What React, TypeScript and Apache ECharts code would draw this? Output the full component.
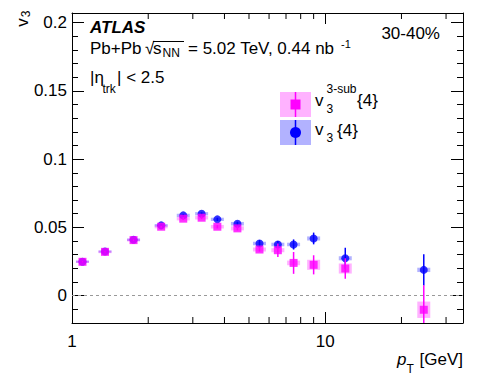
import React, { useEffect, useRef } from "react";
import * as echarts from "echarts";

// ---- data ----
const pT = [1.1, 1.35, 1.75, 2.25, 2.75, 3.25, 3.75, 4.5, 5.5, 6.5, 7.5, 9, 12, 24.5];
const v3sub = [0.0248, 0.0321, 0.0407, 0.0505, 0.0564, 0.0571, 0.0505, 0.0493, 0.0338, 0.0333, 0.024, 0.0226, 0.0199, -0.0103];
const v3subStat = [0.0005, 0.0005, 0.0006, 0.0008, 0.001, 0.001, 0.0012, 0.0015, 0.0015, 0.005, 0.008, 0.007, 0.0075, 0.018];
const v3subSys = [0.0008, 0.001, 0.001, 0.0012, 0.0013, 0.0013, 0.0013, 0.0015, 0.0015, 0.0015, 0.0017, 0.0037, 0.0037, 0.006];
const v34 = [0.0249, 0.0323, 0.0409, 0.0515, 0.0588, 0.06, 0.0559, 0.0527, 0.0382, 0.0375, 0.0375, 0.0419, 0.0274, 0.0189];
const v34Stat = [0.0005, 0.0005, 0.0006, 0.0008, 0.001, 0.001, 0.0012, 0.0015, 0.0026, 0.0026, 0.0037, 0.0043, 0.0077, 0.0115];
const v34Sys = [0.0008, 0.0008, 0.0009, 0.001, 0.0012, 0.0012, 0.0012, 0.0013, 0.0013, 0.0013, 0.0013, 0.0015, 0.0015, 0.0016];

const yMajor = [0, 0.05, 0.1, 0.15, 0.2];
const yMinor = [-0.01, 0.01, 0.02, 0.03, 0.04, 0.06, 0.07, 0.08, 0.09, 0.11, 0.12, 0.13, 0.14, 0.16, 0.17, 0.18, 0.19, 0.2];
const xLabels = [1, 10];
const xMinor = [2, 3, 4, 5, 6, 7, 8, 9, 20, 30];
const X_MIN = 1, X_MAX = 35, Y_MIN = -0.02, Y_MAX = 0.207;

const FONT = "Liberation Sans, Arial, Helvetica, sans-serif";
const MAG = "#ff00ff", MAG_BOX = "rgba(255,0,255,0.3)";
const BLU = "#0000ff", BLU_BOX = "rgba(0,0,255,0.3)";

function boxSeries(xs: number[], ys: number[], sys: number[], color: string) {
  return {
    type: "custom",
    xAxisIndex: 0, yAxisIndex: 0, clip: true, silent: true, z: 2,
    data: xs.map((x, i) => [x, ys[i], sys[i]]),
    renderItem: (params: any, api: any) => {
      const c = api.coord([api.value(0), api.value(1)]);
      const top = api.coord([api.value(0), api.value(1) + api.value(2)]);
      const bot = api.coord([api.value(0), api.value(1) - api.value(2)]);
      return {
        type: "rect",
        shape: { x: c[0] - 6.5, y: top[1], width: 13, height: Math.max(bot[1] - top[1], 1) },
        style: { fill: color },
      };
    },
  };
}
function errSeries(xs: number[], ys: number[], st: number[], color: string, z: number) {
  return {
    type: "custom",
    xAxisIndex: 0, yAxisIndex: 0, clip: true, silent: true, z,
    data: xs.map((x, i) => [x, ys[i], st[i]]),
    renderItem: (params: any, api: any) => {
      const top = api.coord([api.value(0), api.value(1) + api.value(2)]);
      const bot = api.coord([api.value(0), api.value(1) - api.value(2)]);
      return {
        type: "line",
        shape: { x1: top[0], y1: top[1], x2: bot[0], y2: bot[1] },
        style: { stroke: color, lineWidth: 1.5 },
      };
    },
  };
}

function txt(text: string, x: number, y: number, size: number, extra: any = {}) {
  return {
    type: "text", x, y, silent: true, ...extra.el,
    style: {
      text, fill: "#000", font: `${extra.font || ""} ${size}px ${FONT}`,
      textAlign: extra.align || "left", textVerticalAlign: "middle",
      align: extra.align || "left", verticalAlign: "middle",
    },
  };
}

export default function App() {
  const ref = useRef<HTMLDivElement>(null);
  useEffect(() => {
    const chart = echarts.init(ref.current!, null, { renderer: "svg" });
    const axisCommon = { lineStyle: { color: "#000", width: 1 } };
    const option: any = {
      animation: false,
      backgroundColor: "#fff",
      grid: { left: 72, right: 15, top: 13, bottom: 58 },
      xAxis: [
        {
          type: "log", logBase: 10, min: X_MIN, max: X_MAX, position: "bottom",
          axisLine: { show: true, onZero: false, ...axisCommon },
          axisTick: { inside: true, length: 11, lineStyle: { color: "#000" } },
          axisLabel: {
            color: "#000", fontSize: 17, fontFamily: FONT, margin: 10,
            showMaxLabel: false,
            formatter: (v: number) => (xLabels.indexOf(Math.round(v)) >= 0 ? String(Math.round(v)) : ""),
          },
          splitLine: { show: false },
        },
        {
          type: "log", logBase: 10, min: X_MIN, max: X_MAX, position: "top",
          axisLine: { show: true, onZero: false, ...axisCommon },
          axisTick: { inside: true, length: 11, lineStyle: { color: "#000" } },
          axisLabel: { show: false },
          splitLine: { show: false },
        },
      ],
      yAxis: [
        {
          type: "value", min: Y_MIN, max: Y_MAX, position: "left",
          axisLine: { show: true, onZero: false, ...axisCommon },
          axisTick: { inside: true, length: 12, customValues: yMajor, lineStyle: { color: "#000" } },
          axisLabel: { customValues: yMajor, color: "#000", fontSize: 17, fontFamily: FONT, margin: 5 },
          splitLine: { show: false },
        },
        {
          type: "value", min: Y_MIN, max: Y_MAX, position: "left",
          axisLine: { show: false },
          axisTick: { inside: true, length: 6, customValues: yMinor, lineStyle: { color: "#000" } },
          axisLabel: { show: false },
          splitLine: { show: false },
        },
        {
          type: "value", min: Y_MIN, max: Y_MAX, position: "right",
          axisLine: { show: true, onZero: false, ...axisCommon },
          axisTick: { inside: true, length: 12, customValues: yMajor, lineStyle: { color: "#000" } },
          axisLabel: { show: false },
          splitLine: { show: false },
        },
        {
          type: "value", min: Y_MIN, max: Y_MAX, position: "right",
          axisLine: { show: false },
          axisTick: { inside: true, length: 6, customValues: yMinor, lineStyle: { color: "#000" } },
          axisLabel: { show: false },
          splitLine: { show: false },
        },
      ],
      series: [
        {
          type: "custom", xAxisIndex: 0, yAxisIndex: 0, silent: true, z: 1,
          data: xMinor.map((v) => [v]),
          renderItem: (params: any, api: any) => {
            const b = api.coord([api.value(0), Y_MIN]);
            const t = api.coord([api.value(0), Y_MAX]);
            return {
              type: "group",
              children: [
                { type: "line", shape: { x1: b[0], y1: b[1], x2: b[0], y2: b[1] - 6 }, style: { stroke: "#000", lineWidth: 1 } },
                { type: "line", shape: { x1: t[0], y1: t[1], x2: t[0], y2: t[1] + 6 }, style: { stroke: "#000", lineWidth: 1 } },
              ],
            };
          },
        },
        {
          type: "line", xAxisIndex: 0, yAxisIndex: 0, data: [], silent: true,
          markLine: {
            silent: true, symbol: "none", label: { show: false },
            lineStyle: { color: "#999", type: [3, 3], width: 1 },
            data: [{ yAxis: 0 }],
          },
        },
        boxSeries(pT, v34, v34Sys, BLU_BOX),
        boxSeries(pT, v3sub, v3subSys, MAG_BOX),
        errSeries(pT, v34, v34Stat, BLU, 3),
        {
          type: "scatter", name: "v3{4}", xAxisIndex: 0, yAxisIndex: 0, z: 4,
          symbol: "circle", symbolSize: 8, itemStyle: { color: BLU },
          data: pT.map((x, i) => [x, v34[i]]), silent: true,
        },
        errSeries(pT, v3sub, v3subStat, MAG, 5),
        {
          type: "scatter", name: "v3sub{4}", xAxisIndex: 0, yAxisIndex: 0, z: 6,
          symbol: "rect", symbolSize: 8, itemStyle: { color: MAG },
          data: pT.map((x, i) => [x, v3sub[i]]), silent: true,
        },
      ],
      graphic: [
        txt("ATLAS", 90, 27.5, 17, { font: "italic bold" }),
        txt("Pb+Pb", 90, 48, 17),
        txt("\u221A", 145, 48, 17),
        { type: "line", silent: true, shape: { x1: 153, y1: 41.5, x2: 184, y2: 41.5 }, style: { stroke: "#000", lineWidth: 1 } },
        txt("s", 153, 48, 17),
        txt("NN", 162.5, 52.5, 12),
        txt("= 5.02 TeV, 0.44 nb", 188, 48, 17),
        txt("-1", 341, 44, 11),
        txt("|\u03B7", 90, 77.5, 17),
        txt("trk", 102.5, 89, 12),
        txt("| < 2.5", 117, 77.5, 17),
        txt("30-40%", 440, 33, 17, { align: "right" }),
        // legend
        { type: "rect", silent: true, shape: { x: 280, y: 92, width: 31, height: 25 }, style: { fill: MAG_BOX } },
        { type: "line", silent: true, shape: { x1: 295.5, y1: 92, x2: 295.5, y2: 117 }, style: { stroke: MAG, lineWidth: 1.5 } },
        { type: "rect", silent: true, shape: { x: 290.5, y: 99.5, width: 10, height: 10 }, style: { fill: MAG } },
        { type: "rect", silent: true, shape: { x: 280, y: 120, width: 31, height: 25 }, style: { fill: BLU_BOX } },
        { type: "line", silent: true, shape: { x1: 295.5, y1: 120, x2: 295.5, y2: 145 }, style: { stroke: BLU, lineWidth: 1.5 } },
        { type: "circle", silent: true, shape: { cx: 295.5, cy: 132.5, r: 5.5 }, style: { fill: BLU } },
        txt("v", 315, 100.5, 17),
        txt("3-sub", 326.5, 88.5, 12),
        txt("3", 326.5, 109, 12),
        txt("{4}", 357, 100, 17),
        txt("v", 315, 129, 17),
        txt("3", 326.5, 138, 12),
        txt("{4}", 337, 130, 17),
        // axis titles
        txt("v", 22.5, 22.5, 17, { align: "center", el: { rotation: Math.PI / 2 } }),
        txt("3", 25.5, 14, 12, { align: "center", el: { rotation: Math.PI / 2 } }),
        txt("p", 397, 359, 17, { font: "italic" }),
        txt("T", 406.5, 369, 12),
        txt("[GeV]", 463, 359, 17, { align: "right" }),
      ],
    };
    chart.setOption(option);
    return () => chart.dispose();
  }, []);
  return <div ref={ref} style={{ position: "absolute", left: 0, top: 0, width: 478, height: 381 }} />;
}
